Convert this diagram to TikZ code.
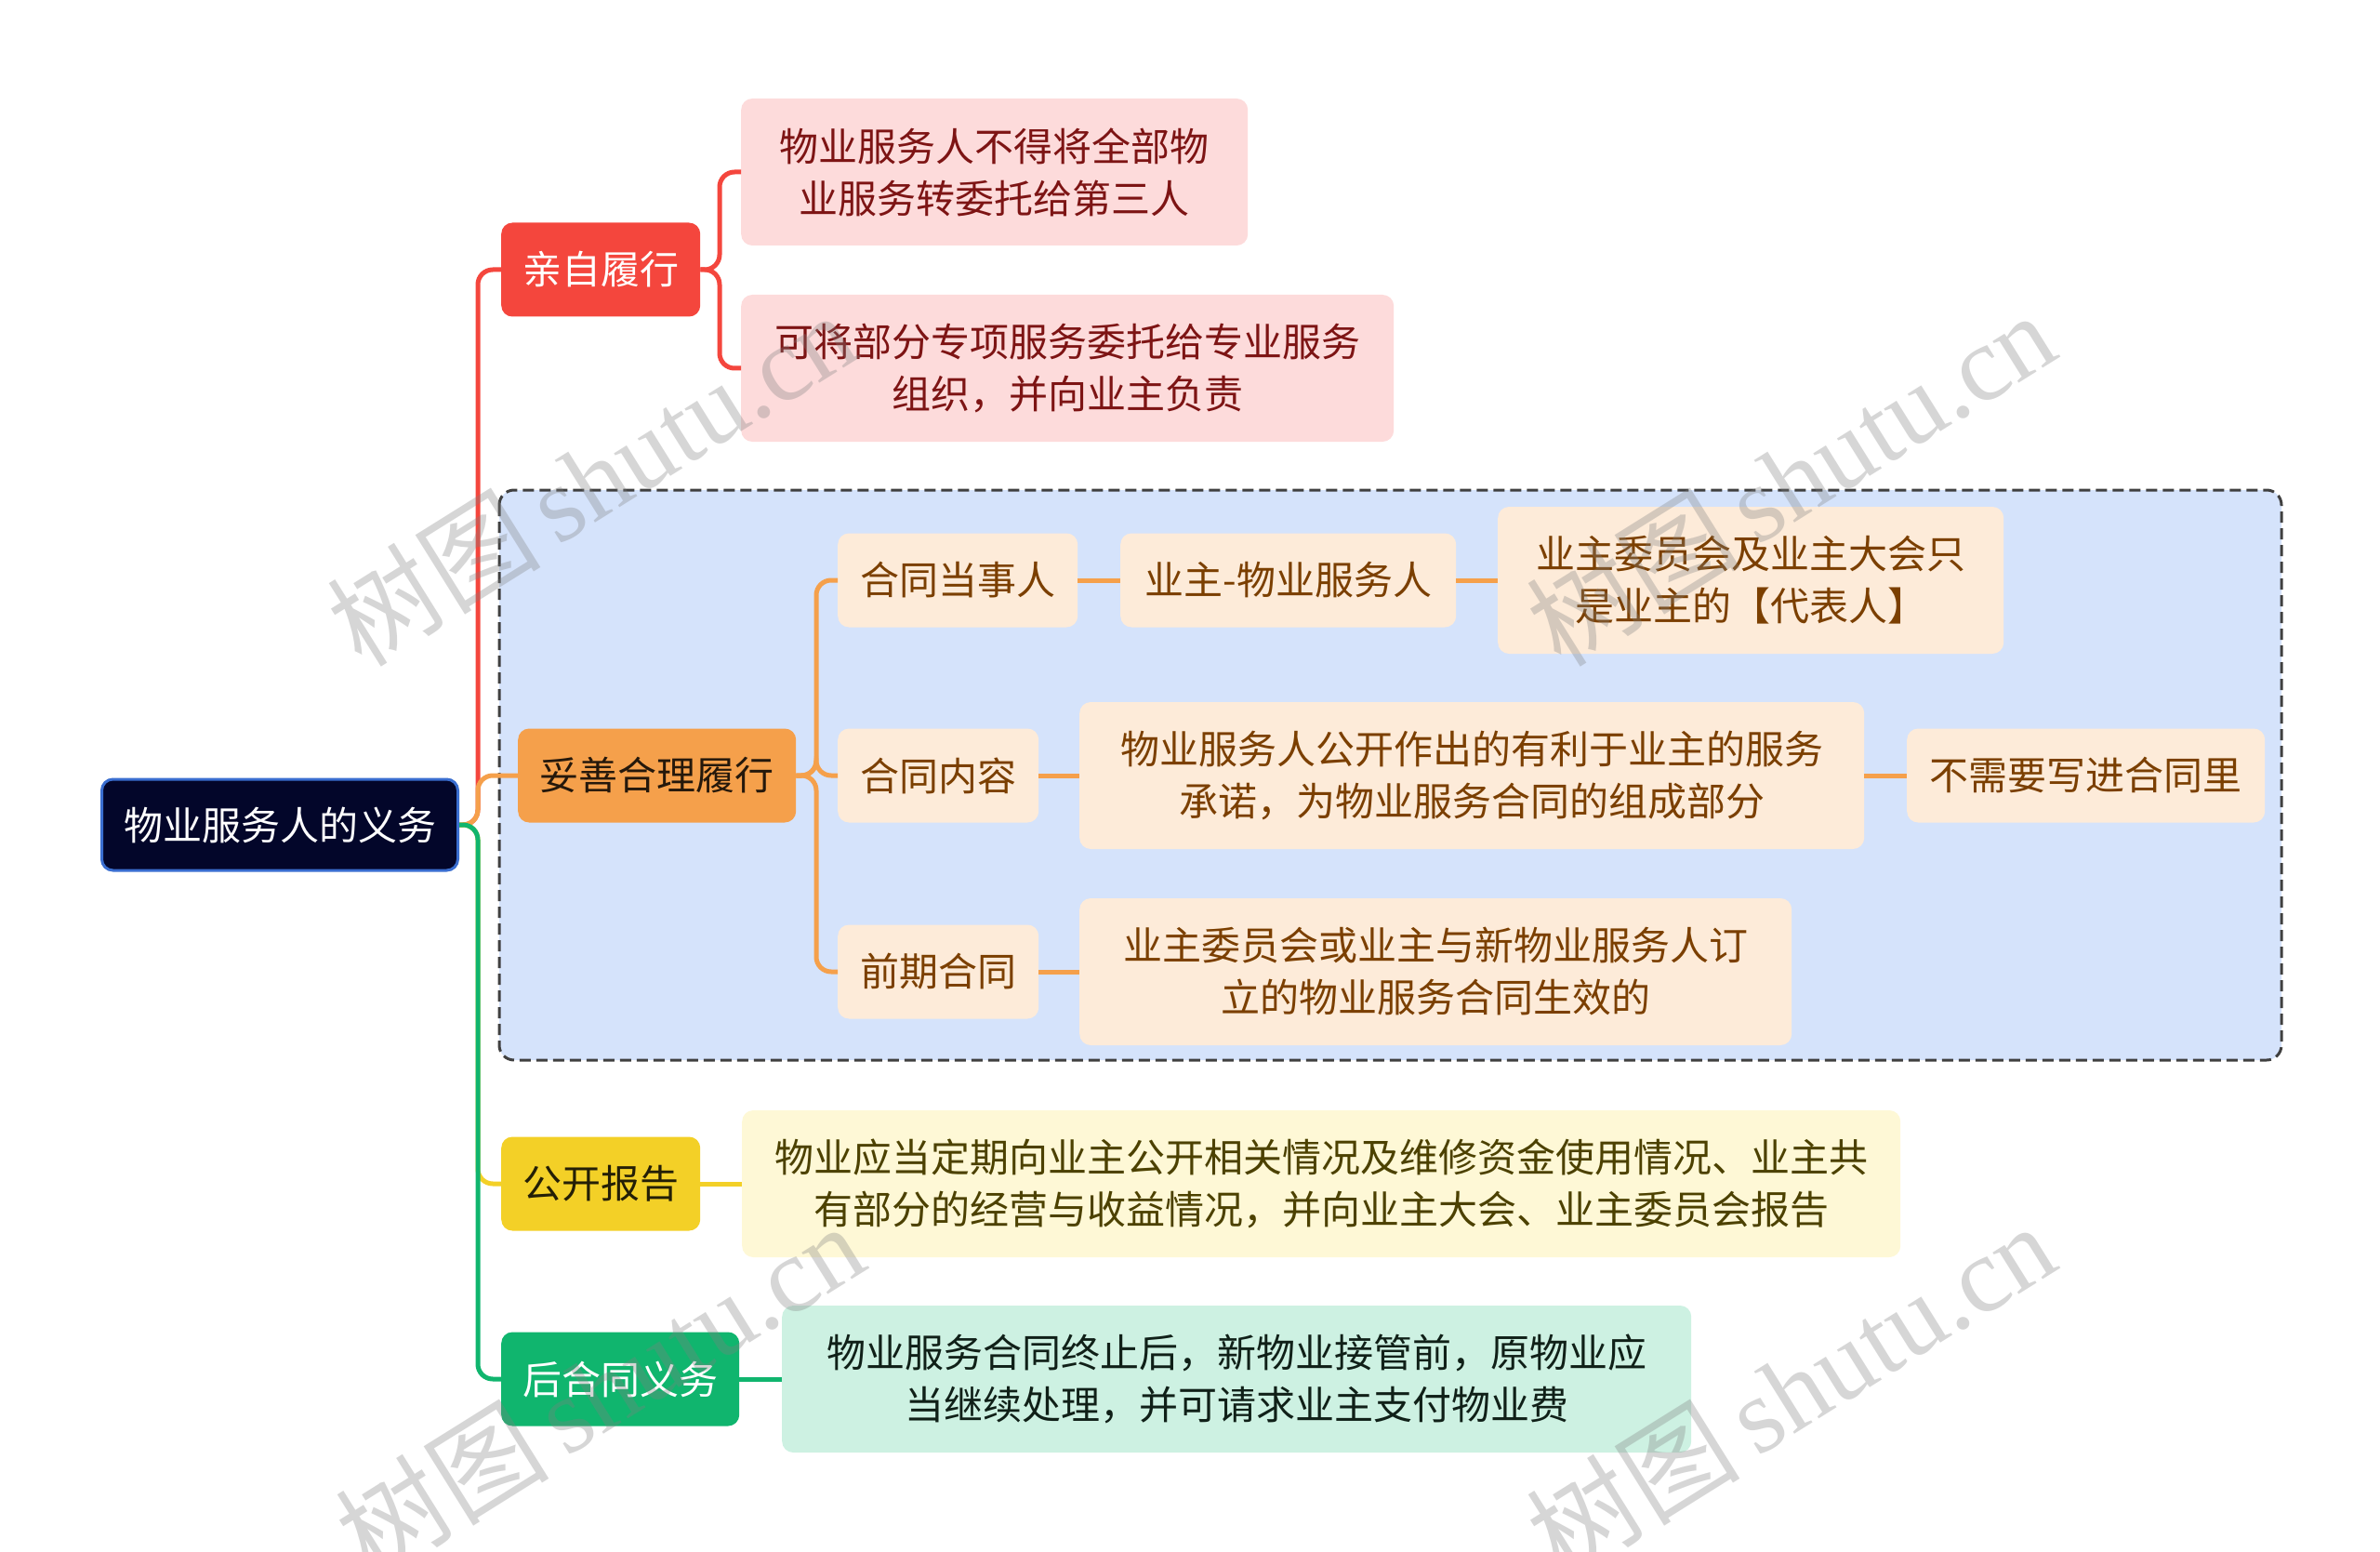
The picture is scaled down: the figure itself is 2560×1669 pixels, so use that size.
\documentclass[tikz,border=0pt]{standalone}
\usepackage{fontspec}
\newfontfamily\cjk{Noto Sans CJK SC}
\newfontfamily\wmserif{Liberation Serif}
\begin{document}
\begin{tikzpicture}[x=1pt,y=-1pt]
\definecolor{rootfill}{HTML}{03062A}
\definecolor{rootline}{HTML}{3A6ED0}
\definecolor{redc}{HTML}{F4463D}
\definecolor{redlight}{HTML}{FDDBDB}
\definecolor{redtext}{HTML}{7D1414}
\definecolor{orac}{HTML}{F5A04B}
\definecolor{oralight}{HTML}{FDEBD9}
\definecolor{oratext}{HTML}{7B3F00}
\definecolor{yelc}{HTML}{F3D027}
\definecolor{yellight}{HTML}{FEF8D6}
\definecolor{yeltext}{HTML}{4C4100}
\definecolor{grnc}{HTML}{10B56E}
\definecolor{grnlight}{HTML}{CDF1E2}
\definecolor{grntext}{HTML}{102018}
\definecolor{bluebg}{HTML}{D5E3FB}
\tikzset{
  box/.style={rounded corners=12pt, inner sep=0pt, align=center, anchor=west,
    font=\cjk\fontsize{42}{56}\selectfont, minimum height=101pt},
  tall/.style={minimum height=158pt},
  conn/.style={line width=5pt, rounded corners=16pt},
  wm/.style={rotate=32, text=gray, opacity=0.32, inner sep=0pt}
}
\useasboundingbox (0,0) rectangle (2560,1669);

% grouping box
\draw[fill=bluebg, draw=black!75, line width=3pt, dash pattern=on 12pt off 6pt, rounded corners=16pt]
  (537,527) rectangle (2454,1140);

% nodes
\node[box, fill=rootfill, draw=rootline, line width=3pt, text=white, minimum width=383pt, minimum height=98pt] (root) at (108,887) {物业服务人的义务};

\node[box, fill=redc, text=white, minimum width=214pt] (a) at (539,290) {亲自履行};
\node[box, tall, fill=redlight, text=redtext, minimum width=545pt] (a1) at (797,185) {物业服务人不得将全部物\\业服务转委托给第三人};
\node[box, tall, fill=redlight, text=redtext, minimum width=702pt] (a2) at (797,396) {可将部分专项服务委托给专业服务\\组织，并向业主负责};

\node[box, fill=orac, text=black!85!orac, minimum width=299pt] (b) at (557,834) {妥善合理履行};
\node[box, fill=oralight, text=oratext, minimum width=258pt] (b1) at (901,624) {合同当事人};
\node[box, fill=oralight, text=oratext, minimum width=361pt] (b1a) at (1205,624) {业主-物业服务人};
\node[box, tall, fill=oralight, text=oratext, minimum width=544pt] (b1b) at (1611,624) {业主委员会及业主大会只\\是业主的【代表人】};
\node[box, fill=oralight, text=oratext, minimum width=216pt] (b2) at (901,834) {合同内容};
\node[box, tall, fill=oralight, text=oratext, minimum width=844pt] (b2a) at (1161,834) {物业服务人公开作出的有利于业主的服务\\承诺，为物业服务合同的组成部分};
\node[box, fill=oralight, text=oratext, minimum width=385pt] (b2b) at (2051,834) {不需要写进合同里};
\node[box, fill=oralight, text=oratext, minimum width=216pt] (b3) at (901,1045) {前期合同};
\node[box, tall, fill=oralight, text=oratext, minimum width=766pt] (b3a) at (1161,1045) {业主委员会或业主与新物业服务人订\\立的物业服务合同生效的};

\node[box, fill=yelc, text=black!85!yelc, minimum width=214pt] (c) at (539,1273) {公开报告};
\node[box, tall, fill=yellight, text=yeltext, minimum width=1246pt] (c1) at (798,1273) {物业应当定期向业主公开相关情况及维修资金使用情况、业主共\\有部分的经营与收益情况，并向业主大会、业主委员会报告};

\node[box, fill=grnc, text=white, minimum width=256pt] (d) at (539,1483) {后合同义务};
\node[box, tall, fill=grnlight, text=grntext, minimum width=978pt] (d1) at (841,1483) {物业服务合同终止后，新物业接管前，原物业应\\当继续处理，并可请求业主支付物业费};

% connectors from root
\coordinate (j0) at (514,887);
\draw[conn, redc] (root.east) -- (j0) |- (a.west);
\draw[conn, orac] (root.east) -- (j0) |- (b.west);
\draw[conn, yelc] (root.east) -- (j0) |- (c.west);
\draw[conn, grnc] (root.east) -- (j0) |- (d.west);

% connectors 亲自履行
\coordinate (ja) at (774,290);
\draw[conn, redc] (a.east) -- (ja) |- (a1.west);
\draw[conn, redc] (a.east) -- (ja) |- (a2.west);

% connectors 妥善合理履行
\coordinate (jb) at (878,834);
\draw[conn, orac] (b.east) -- (jb) |- (b1.west);
\draw[conn, orac] (b.east) -- (jb) |- (b2.west);
\draw[conn, orac] (b.east) -- (jb) |- (b3.west);
\draw[conn, orac] (b1.east) -- (b1a.west);
\draw[conn, orac] (b1a.east) -- (b1b.west);
\draw[conn, orac] (b2.east) -- (b2a.west);
\draw[conn, orac] (b2a.east) -- (b2b.west);
\draw[conn, orac] (b3.east) -- (b3a.west);

\draw[conn, yelc] (c.east) -- (c1.west);
\draw[conn, grnc] (d.east) -- (d1.west);

% watermarks
\begin{scope}
\clip (0,0) rectangle (2560,1669);
\node[wm] (w1) at (636,514) {\cjk\fontsize{115}{115}\selectfont 树图\,{\wmserif shutu.cn}};
\node[wm] (w2) at (1926,514) {\cjk\fontsize{115}{115}\selectfont 树图\,{\wmserif shutu.cn}};
\node[wm] (w3) at (645,1494) {\cjk\fontsize{115}{115}\selectfont 树图\,{\wmserif shutu.cn}};
\node[wm] (w4) at (1926,1494) {\cjk\fontsize{115}{115}\selectfont 树图\,{\wmserif shutu.cn}};
\end{scope}
\end{tikzpicture}
\end{document}
